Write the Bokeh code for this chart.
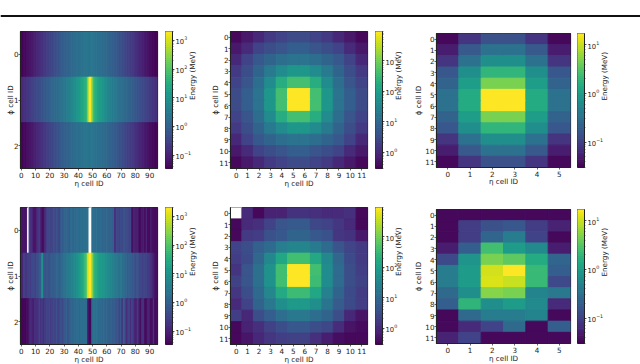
import math
import numpy as np
from bokeh.embed import file_html
from bokeh.layouts import column, row
from bokeh.models import ColumnDataSource, FixedTicker, LogColorMapper, LogTicker, Span
from bokeh.palettes import Viridis256
from bokeh.plotting import figure
from bokeh.resources import INLINE
from bokeh.transform import transform

nan = float("nan")

# Calorimeter layer 0 (96 eta x 3 phi)
wide_top = [
    [.04,.04,.045,.045,.05,.055,.06,.065,.075,.085,
     .095,.11,.12,.14,.15,.17,.19,.21,.24,.27,
     .30,.33,.37,.42,.47,.53,.60,.66,.74,.82,
     .92,1.0,1.1,1.2,1.3,1.4,1.5,1.6,1.7,1.8,
     1.9,2.0,2.1,2.2,2.3,2.3,2.4,2.4,2.4,2.4,
     2.3,2.3,2.2,2.1,2.0,1.9,1.8,1.7,1.6,1.5,
     1.4,1.3,1.2,1.1,1.0,.92,.82,.74,.66,.60,
     .53,.47,.42,.37,.33,.30,.27,.24,.21,.19,
     .17,.15,.14,.12,.11,.095,.085,.075,.065,.06,
     .055,.05,.045,.045,.04,.04],
    [.13,.13,.15,.16,.18,.20,.22,.25,.28,.31,
     .35,.39,.43,.48,.54,.60,.68,.76,.85,.95,
     1.05,1.15,1.3,1.4,1.5,1.65,1.8,1.9,2.1,2.3,
     2.6,2.9,3.3,3.7,4.2,4.8,5.5,6.5,8,10,
     12,15,18,22,28,36,50,230,2000,2000,
     300,62,40,28,22,18,15,12,10,8,
     6.5,5.5,4.8,4.2,3.7,3.3,2.9,2.6,2.3,2.1,
     1.9,1.8,1.65,1.5,1.4,1.3,1.15,1.05,.95,.85,
     .76,.68,.60,.54,.48,.43,.39,.35,.31,.28,
     .25,.22,.20,.18,.16,.15],
    [.04,.04,.045,.045,.05,.055,.06,.065,.075,.085,
     .095,.11,.12,.14,.15,.17,.19,.21,.24,.27,
     .30,.33,.37,.42,.47,.53,.60,.66,.74,.82,
     .92,1.0,1.1,1.2,1.3,1.4,1.5,1.6,1.7,1.8,
     1.9,2.0,2.1,2.2,2.3,2.3,2.4,2.4,2.4,2.4,
     2.3,2.3,2.2,2.1,2.0,1.9,1.8,1.7,1.6,1.5,
     1.4,1.3,1.2,1.1,1.0,.92,.82,.74,.66,.60,
     .53,.47,.42,.37,.33,.30,.27,.24,.21,.19,
     .17,.15,.14,.12,.11,.095,.085,.075,.065,.06,
     .055,.05,.045,.045,.04,.04],
]
wide_bottom = [
    [.064,.064,.064,.058,.08,nan,.24,.17,.13,.058,
     .058,.1,.17,.24,.1,.052,.052,.13,.24,.37,
     .37,.3,.3,.52,.37,.52,.46,.3,.72,.9,
     .9,1.25,1.25,1.25,.9,1.6,1.6,1.25,1.6,1.6,
     1.8,1.6,1.8,1.8,1.8,2.0,1.8,2.2,nan,nan,
     1.8,1.6,1.6,1.8,1.4,1.6,1.6,1.25,1.25,1.25,
     1.4,1.25,1.15,1.15,.9,.9,.13,.37,.37,.3,
     .46,.37,.52,.52,.37,.46,.3,.37,.046,.1,
     .1,.08,.1,.046,.046,.08,.08,.046,.1,.046,
     .046,.08,.058,.046,.046,.046],
    [.08,.1,.3,.25,.17,.3,.3,.25,.4,.35,
     .3,.4,.52,.72,.9,14,.72,.52,.72,.72,
     .52,.72,.9,.72,.9,1.25,1.25,.9,1.25,1.6,
     2.2,2.2,2.7,3.0,3.4,4.0,4.7,5.5,6.5,8.3,
     10,14,18,25,35,60,130,900,2000,2000,
     390,70,40,28,22,16,14,12,11,10,
     8.3,7,6.5,5.5,4.7,4,3.4,2.7,2.7,2.2,
     2.7,2.2,1.6,1.6,1.25,.9,1.25,.9,.72,.72,
     .52,.52,.72,.37,.37,.3,.3,.37,.3,.24,
     .24,.17,.13,.08,.06,.05],
    [.04,.04,.04,.04,.05,.05,.1,.13,.1,.08,
     .17,.13,.17,.3,.17,.24,.13,.24,.3,.3,
     .37,.24,.3,.37,.3,.46,.3,.37,.52,.37,
     .52,.72,.9,.52,.9,1.15,1.25,1.25,1.6,1.6,
     1.8,1.6,1.8,1.8,2.0,1.8,1.6,.1,.045,.045,
     1.8,2.0,2.0,1.8,1.8,1.6,1.6,1.25,1.6,1.25,
     1.25,1.15,.9,1.15,.9,.72,.9,.52,.72,.3,
     .72,.17,.9,.52,.13,.24,.37,.13,.37,.17,
     .1,.1,.24,.08,.05,.17,.13,.05,.05,.1,
     .1,.05,.05,.17,.05,.05],
]
# Layer 1 (12 x 12)
square_top = [
    [.36,.6,.9,1.7,2.3,3.2,3.2,2.3,1.7,.9,.6,.36],
    [.6,1.0,2.3,3.5,4.5,6.5,6.5,4.5,3.5,2.3,1.0,.6],
    [.9,2.3,5,8,12,15,15,12,8,5,2.3,.9],
    [1.7,3.5,8,20,43,70,70,43,20,8,3.5,1.7],
    [2.3,4.5,12,43,180,410,410,180,43,12,4.5,2.3],
    [3.2,6.5,15,70,410,9000,9000,410,70,15,6.5,3.2],
    [3.2,6.5,15,70,410,9000,9000,410,70,15,6.5,3.2],
    [2.3,4.5,12,43,180,410,410,180,43,12,4.5,2.3],
    [1.7,3.5,8,20,43,70,70,43,20,8,3.5,1.7],
    [.9,2.3,5,8,12,15,15,12,8,5,2.3,.9],
    [.6,1.0,2.3,3.5,4.5,6.5,6.5,4.5,3.5,2.3,1.0,.6],
    [.36,.6,.9,1.7,2.3,3.2,3.2,2.3,1.7,.9,.6,.36],
]
square_bottom = [
    [nan,1,.36,.8,.8,1.3,1.3,1.2,1,1,1.2,.36],
    [.36,1,1.2,2.3,4.5,5.5,5.5,2.7,2.3,1.5,1,.36],
    [.36,1.7,1.9,4,5,8,8,5,4,1.5,1.3,.6],
    [2.3,3.5,7,11,24,32,32,20,11,4.5,2.5,1.7],
    [1.9,3,9,37,140,400,400,150,37,9,3,1.7],
    [1.4,4.5,13,60,400,9000,9000,400,45,11,3.5,1.9],
    [2.2,4.5,13,60,400,9000,9000,350,45,11,3.5,2.2],
    [1.5,3.5,10,35,160,350,350,140,28,8,3,1.8],
    [1,2.3,8,18,50,80,80,50,16,6,3,1.9],
    [2,.9,3.5,6.5,12,18,18,12,8,3.5,.9,.5],
    [.36,.8,1.2,2.2,3.5,5,5,3.5,2.7,1.1,.5,.4],
    [.36,.55,.9,1.5,2,2.2,2.2,1.2,.7,.42,.36,.36],
]
# Layer 2 (6 eta x 12 phi)
narrow_top = [
    [.034,.078,.146,.146,.078,.034],
    [.05,.177,.33,.33,.177,.05],
    [.078,.33,.71,.71,.33,.078],
    [.166,.71,1.97,1.97,.71,.166],
    [.228,1.03,4.7,4.7,1.03,.228],
    [.33,1.5,17,17,1.5,.33],
    [.33,1.5,17,17,1.5,.33],
    [.228,1.03,4.7,4.7,1.03,.228],
    [.166,.71,1.97,1.97,.71,.166],
    [.078,.33,.71,.71,.33,.078],
    [.05,.177,.33,.33,.177,.05],
    [.034,.078,.146,.146,.078,.034],
]
narrow_bottom = [
    [.034,.034,.034,.034,.034,.034],
    [.034,.094,.146,.166,.094,.057],
    [.034,.094,.24,.43,.107,.034],
    [.05,.2,2.5,.97,.63,.05],
    [.121,.8,4.7,3.5,1.5,.24],
    [.43,.97,11,17,2.2,.2],
    [.43,.97,12,10,2.2,.121],
    [.27,.71,5.4,4.7,.52,.38],
    [.2,1.9,.71,.97,.63,.064],
    [.034,.27,.43,.43,.52,.034],
    [.034,.064,.107,.27,.034,.2],
    [.057,.107,.034,.034,.034,.034],
]

ticks_wide = [0, 10, 20, 30, 40, 50, 60, 70, 80, 90]
ticks_phi3 = [0, 1, 2]
ticks_12 = list(range(12))
ticks_6 = list(range(6))

limits_wide = (0.034, 2050)
limits_square = (0.29, 9100)
limits_narrow = (0.03, 17)

X_LABEL = "η cell ID"
Y_LABEL = "ϕ cell ID"
CB_LABEL = "Energy (MeV)"
FONT = "DejaVu Sans"
FS = "7.2px"
FS_CB = "6.8px"
INK = "#222222"


def style_axis(ax, label, standoff, tick_standoff=1):
    ax.axis_label = label
    ax.axis_label_text_font = FONT
    ax.axis_label_text_font_size = FS
    ax.axis_label_text_font_style = "normal"
    ax.axis_label_text_color = INK
    ax.axis_label_standoff = standoff
    ax.major_label_text_font = FONT
    ax.major_label_text_font_size = FS
    ax.major_label_text_color = INK
    ax.axis_line_color = INK
    ax.major_tick_line_color = INK
    ax.major_tick_line_width = 0.7
    ax.minor_tick_line_color = INK
    ax.minor_tick_line_width = 0.5
    ax.major_tick_in = 0
    ax.major_tick_out = 2
    ax.minor_tick_in = 0
    ax.minor_tick_out = 1
    ax.major_label_standoff = tick_standoff


def heat(values, limits, xticks, yticks, frame, left, right, top, bottom, xoff, yoff):
    arr = np.array(values, dtype=float)
    ny, nx = arr.shape
    yy, xx = np.mgrid[0:ny, 0:nx]
    src = ColumnDataSource(dict(x=xx.ravel(), y=yy.ravel(), e=arr.ravel()))
    mapper = LogColorMapper(palette=Viridis256, low=limits[0], high=limits[1], nan_color="white")
    p = figure(frame_width=frame[0], frame_height=frame[1],
               width=left + frame[0] + right, height=top + frame[1] + bottom,
               min_border_left=left, min_border_right=right,
               min_border_top=top, min_border_bottom=bottom,
               x_range=(-0.5, nx - 0.5), y_range=(ny - 0.5, -0.5),
               frame_align=False,
               output_backend="svg", toolbar_location=None)
    p.rect("x", "y", width=1, height=1, source=src,
           fill_color=transform("e", mapper), line_color=transform("e", mapper), line_width=1)
    p.grid.visible = False
    p.background_fill_color = "white"
    p.outline_line_color = INK
    p.outline_line_width = 1.2
    style_axis(p.xaxis[0], X_LABEL, xoff)
    style_axis(p.yaxis[0], Y_LABEL, yoff, tick_standoff=0)
    p.xaxis[0].ticker = FixedTicker(ticks=xticks)
    p.yaxis[0].ticker = FixedTicker(ticks=yticks)
    p.xaxis[0].minor_tick_out = 0
    p.yaxis[0].minor_tick_out = 0
    return p


def cbar(limits, frame_h, left, right, top, bottom, off):
    edges = np.geomspace(limits[0], limits[1], 65)
    mapper = LogColorMapper(palette=Viridis256, low=limits[0], high=limits[1])
    src = ColumnDataSource(dict(b=edges[:-1], t=edges[1:], m=np.sqrt(edges[:-1] * edges[1:])))
    p = figure(frame_width=7, frame_height=frame_h,
               width=left + 7 + right, height=top + frame_h + bottom,
               min_border_left=left, min_border_right=right,
               min_border_top=top, min_border_bottom=bottom,
               x_range=(0, 1), y_range=limits, y_axis_type="log", y_axis_location="right",
               frame_align=False,
               output_backend="svg", toolbar_location=None)
    p.quad(left=0, right=1, bottom="b", top="t", source=src,
           fill_color=transform("m", mapper), line_color=transform("m", mapper), line_width=1)
    p.grid.visible = False
    p.xaxis.visible = False
    p.outline_line_color = INK
    p.outline_line_width = 1.0
    ax = p.yaxis[0]
    style_axis(ax, CB_LABEL, off)
    ax.major_label_text_font_size = FS_CB
    ax.ticker = LogTicker(num_minor_ticks=10)
    ax.axis_label_orientation = math.pi / 2
    return p


top_rule = figure(width=640, height=28, x_range=(0, 1), y_range=(0, 1),
                  min_border=0, frame_align=False, output_backend="svg", toolbar_location=None)
top_rule.axis.visible = False
top_rule.grid.visible = False
top_rule.outline_line_color = None
top_rule.add_layout(Span(location=0.45, dimension="width", line_color="#111111", line_width=2))

row_a = row(
    heat(wide_top, limits_wide, ticks_wide, ticks_phi3, (137, 137), 20, 3, 3, 24, -2, -4),
    cbar(limits_wide, 137, 5, 33, 3, 24, -2),
    heat(square_top, limits_square, ticks_12, ticks_12, (137, 137), 25, 3, 3, 24, -2, -4),
    cbar(limits_square, 137, 5, 29, 3, 24, -2),
    heat(narrow_top, limits_narrow, ticks_6, ticks_12, (134, 134), 25, 3, 5, 25, -3, -1),
    cbar(limits_narrow, 134, 4, 56, 5, 25, -2),
    spacing=0,
)
row_b = row(
    heat(wide_bottom, limits_wide, ticks_wide, ticks_phi3, (137, 137), 20, 3, 15, 20, -2, -4),
    cbar(limits_wide, 137, 5, 33, 15, 20, -2),
    heat(square_bottom, limits_square, ticks_12, ticks_12, (137, 137), 25, 3, 15, 20, -2, -4),
    cbar(limits_square, 137, 5, 29, 15, 20, -2),
    heat(narrow_bottom, limits_narrow, ticks_6, ticks_12, (134, 134), 25, 3, 17, 21, -2, -1),
    cbar(limits_narrow, 134, 4, 56, 17, 21, -2),
    spacing=0,
)
root = column(top_rule, row_a, row_b, spacing=0,
              styles={"position": "absolute", "left": "0px", "top": "0px"})

open("out.html", "w").write(file_html(root, INLINE))
